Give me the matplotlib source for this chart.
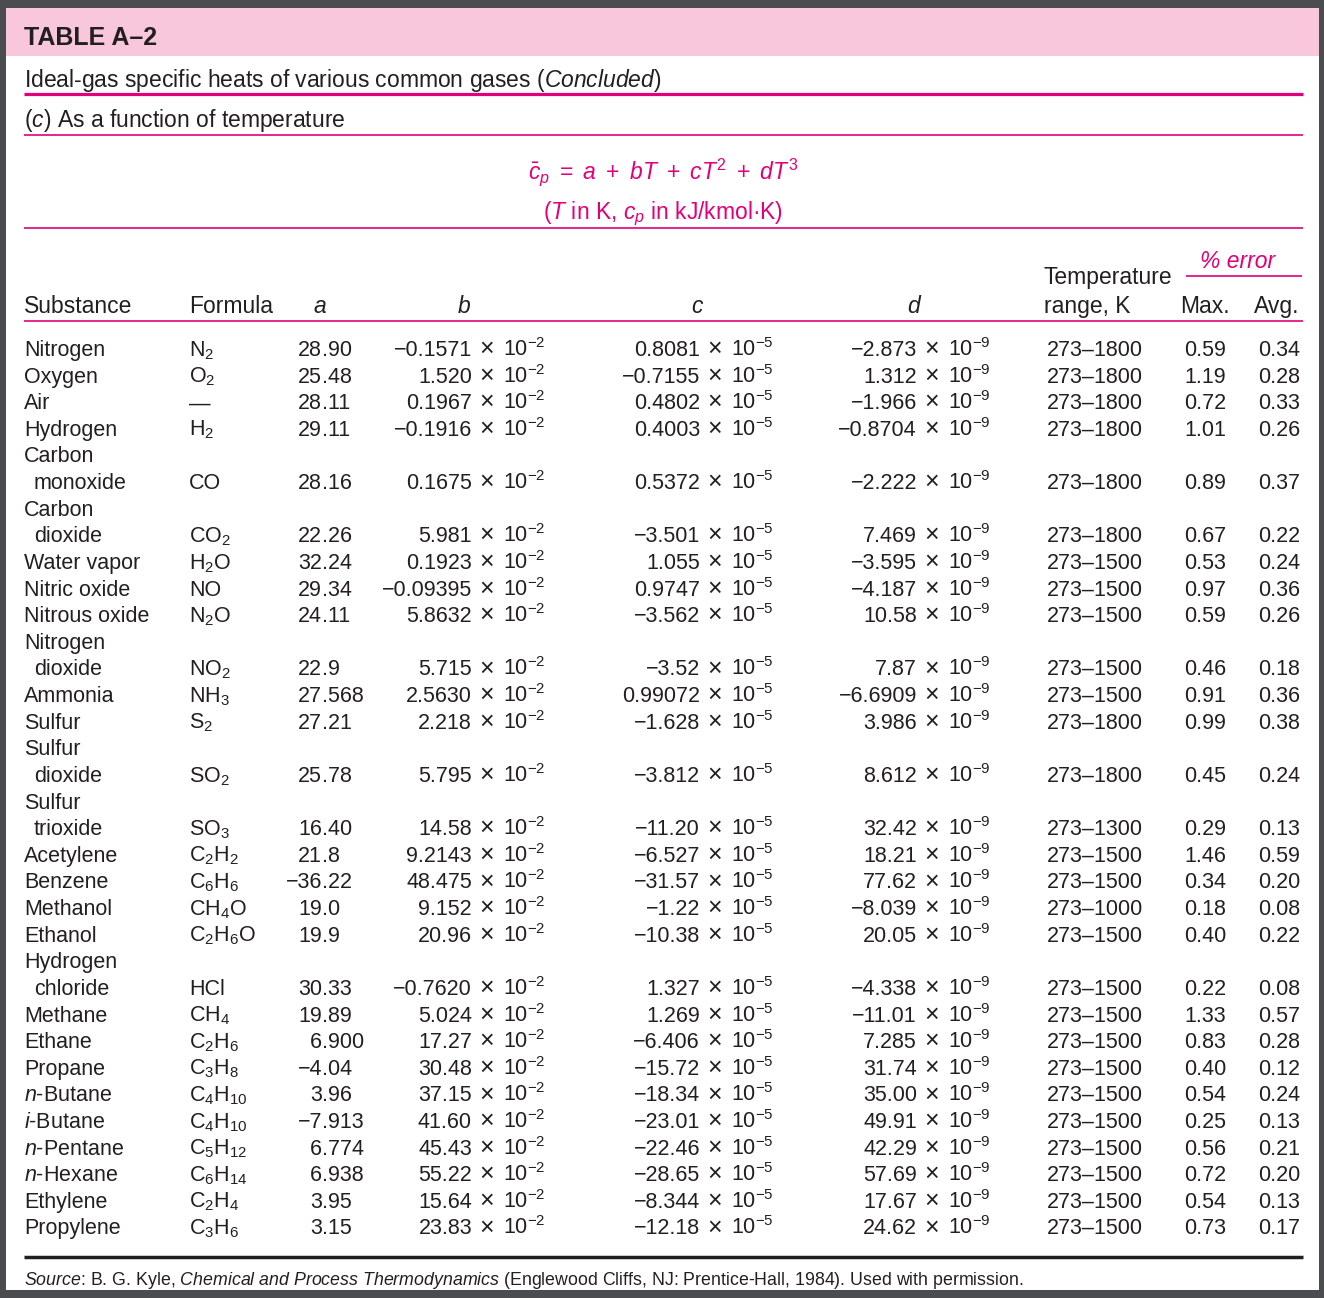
import re
import matplotlib
matplotlib.use("Agg")
import matplotlib.pyplot as plt
from matplotlib.patches import Rectangle

plt.rcParams['font.family'] = ['Liberation Sans', 'DejaVu Sans']
plt.rcParams['mathtext.fontset'] = 'custom'
plt.rcParams['mathtext.rm'] = 'Liberation Sans'
plt.rcParams['mathtext.it'] = 'Liberation Sans:italic'
plt.rcParams['mathtext.bf'] = 'Liberation Sans:bold'

# table data
substances = ['Nitrogen', 'Oxygen', 'Air', 'Hydrogen', 'Carbon\nmonoxide',
              'Carbon\ndioxide', 'Water vapor', 'Nitric oxide', 'Nitrous oxide',
              'Nitrogen\ndioxide', 'Ammonia', 'Sulfur', 'Sulfur\ndioxide',
              'Sulfur\ntrioxide', 'Acetylene', 'Benzene', 'Methanol', 'Ethanol',
              'Hydrogen\nchloride', 'Methane', 'Ethane', 'Propane', '$n$-Butane',
              '$i$-Butane', '$n$-Pentane', '$n$-Hexane', 'Ethylene', 'Propylene']
formulas = ['N2', 'O2', '—', 'H2', 'CO', 'CO2', 'H2O', 'NO', 'N2O', 'NO2', 'NH3',
            'S2', 'SO2', 'SO3', 'C2H2', 'C6H6', 'CH4O', 'C2H6O', 'HCl', 'CH4',
            'C2H6', 'C3H8', 'C4H10', 'C4H10', 'C5H12', 'C6H14', 'C2H4', 'C3H6']
a_vals = ['28.90', '25.48', '28.11', '29.11', '28.16', '22.26', '32.24', '29.34',
          '24.11', '22.9', '27.568', '27.21', '25.78', '16.40', '21.8', '−36.22',
          '19.0', '19.9', '30.33', '19.89', '6.900', '−4.04', '3.96', '−7.913',
          '6.774', '6.938', '3.95', '3.15']
b_vals = ['−0.1571', '1.520', '0.1967', '−0.1916', '0.1675', '5.981', '0.1923',
          '−0.09395', '5.8632', '5.715', '2.5630', '2.218', '5.795', '14.58',
          '9.2143', '48.475', '9.152', '20.96', '−0.7620', '5.024', '17.27',
          '30.48', '37.15', '41.60', '45.43', '55.22', '15.64', '23.83']
c_vals = ['0.8081', '−0.7155', '0.4802', '0.4003', '0.5372', '−3.501', '1.055',
          '0.9747', '−3.562', '−3.52', '0.99072', '−1.628', '−3.812', '−11.20',
          '−6.527', '−31.57', '−1.22', '−10.38', '1.327', '1.269', '−6.406',
          '−15.72', '−18.34', '−23.01', '−22.46', '−28.65', '−8.344', '−12.18']
d_vals = ['−2.873', '1.312', '−1.966', '−0.8704', '−2.222', '7.469', '−3.595',
          '−4.187', '10.58', '7.87', '−6.6909', '3.986', '8.612', '32.42', '18.21',
          '77.62', '−8.039', '20.05', '−4.338', '−11.01', '7.285', '31.74', '35.00',
          '49.91', '42.29', '57.69', '17.67', '24.62']
exponents = ['-2', '-5', '-9']
t_range = ['273–1800'] * 6 + ['273–1500'] * 5 + ['273–1800'] * 2 + ['273–1300',
           '273–1500', '273–1500', '273–1000'] + ['273–1500'] * 11
err_max = ['0.59', '1.19', '0.72', '1.01', '0.89', '0.67', '0.53', '0.97', '0.59',
           '0.46', '0.91', '0.99', '0.45', '0.29', '1.46', '0.34', '0.18', '0.40',
           '0.22', '1.33', '0.83', '0.40', '0.54', '0.25', '0.56', '0.72', '0.54', '0.73']
err_avg = ['0.34', '0.28', '0.33', '0.26', '0.37', '0.22', '0.24', '0.36', '0.26',
           '0.18', '0.36', '0.38', '0.24', '0.13', '0.59', '0.20', '0.08', '0.22',
           '0.08', '0.57', '0.28', '0.12', '0.24', '0.13', '0.21', '0.20', '0.13', '0.17']

INK = '#231f20'
MAGENTA = '#e2007a'
PINK = '#f8c7dc'
FS = 15.5
HS = 16.5

fig = plt.figure(figsize=(13.24, 12.98), dpi=100)
fig.patch.set_facecolor('#4a4c50')
ax = fig.add_axes([0, 0, 1, 1])
ax.set_xlim(0, 1324)
ax.set_ylim(1298, 0)
ax.axis('off')

# page and pink title band
ax.add_patch(Rectangle((6, 8), 1313, 1282, facecolor='white', edgecolor='none'))
ax.add_patch(Rectangle((6, 8), 1313, 48, facecolor=PINK, edgecolor='none'))

def txt(x, y, s, ha='left', size=FS, color=INK, **kw):
    ax.text(x, y, s, ha=ha, va='baseline', fontsize=size, color=color, **kw)

def hline(x0, x1, y, lw, color=MAGENTA):
    ax.plot([x0, x1], [y, y], color=color, lw=lw, solid_capstyle='butt')

txt(24, 45, 'TABLE A–2', size=18, fontweight='bold')
txt(24, 87, r'Ideal-gas specific heats of various common gases ($\it{Concluded}$)', size=HS)
hline(24, 1303, 93.5, 2.3)
txt(24, 127, r'($\it{c}$) As a function of temperature', size=HS)
hline(24, 1303, 135, 1.2)
txt(663, 179, r'$\bar{c}_p\ =\ a\ +\ bT\ +\ cT^2\ +\ dT^3$', ha='center',
    size=HS, color=MAGENTA)
txt(663, 219, r'($T$ in K, $c_p$ in kJ/kmol·K)', ha='center', size=HS, color=MAGENTA)
hline(24, 1303, 228, 1.2)

# column headers
txt(1238, 268, '% error', ha='center', style='italic', color=MAGENTA, size=HS)
hline(1186, 1302, 276, 1.2)
txt(1044, 284, 'Temperature', size=HS)
hy = 313
txt(24, hy, 'Substance', size=HS)
txt(189, hy, 'Formula', size=HS)
for x, s in [(320, 'a'), (464, 'b'), (697, 'c'), (914, 'd')]:
    txt(x, hy, s, ha='center', style='italic', size=HS)
txt(1044, hy, 'range, K', size=HS)
txt(1230, hy, 'Max.', ha='right', size=HS)
txt(1299, hy, 'Avg.', ha='right', size=HS)
hline(24, 1303, 321, 1.2)

# mantissa right edge, "×" centre, "10" left edge for the b, c, d columns
sci_cols = [(472, 487, 503), (700, 715, 731), (917, 932, 948)]

y0, step = 356, 26.62
line = 0
for i, name in enumerate(substances):
    if '\n' in name:
        first, second = name.split('\n')
        txt(24, y0 + step * line, first)
        line += 1
        txt(34, y0 + step * line, second)
    else:
        txt(24, y0 + step * line, name)
    y = y0 + step * line
    txt(189, y, re.sub(r'(\d+)', r'$_{\1}$', formulas[i]))
    whole, frac = a_vals[i].split('.')
    txt(322, y, whole, ha='right')
    txt(322, y, '.' + frac)
    for (xm, xt, xe), vals, ex in zip(sci_cols, [b_vals, c_vals, d_vals], exponents):
        txt(xm, y, vals[i], ha='right')
        txt(xt, y, '×', ha='center', size=FS + 2.5)
        txt(xe, y, '10$^{' + ex + '}$')
    txt(1047, y, t_range[i])
    txt(1226, y, err_max[i], ha='right')
    txt(1300, y, err_avg[i], ha='right')
    line += 1

hline(24, 1303, 1257, 2.5, color=INK)
txt(24, 1285, r'$\it{Source}$: B. G. Kyle, $\it{Chemical\ and\ Process\ Thermodynamics}$'
    r' (Englewood Cliffs, NJ: Prentice-Hall, 1984). Used with permission.', size=12.8)

fig.savefig('out.png', dpi=100, facecolor=fig.get_facecolor())
